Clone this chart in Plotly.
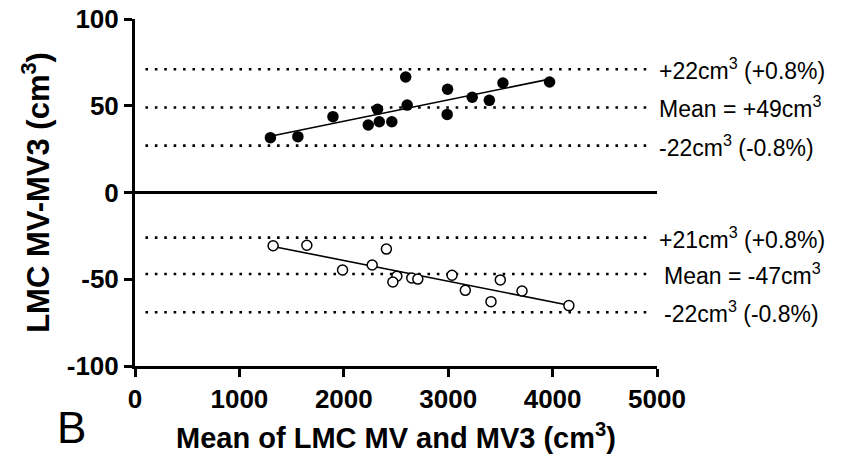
import numpy as np
import plotly.graph_objects as go

# LMC MV vs MV3 agreement (Bland-Altman), two groups
mean_pos = [1297, 1560, 1896, 2234, 2323, 2340, 2460, 2593, 2607, 2994, 2990, 3230, 3394, 3524, 3971]
diff_pos = [31.6, 32.2, 43.7, 38.9, 48.0, 40.8, 40.8, 66.6, 50.4, 59.5, 45.0, 54.9, 53.1, 63.1, 63.7]

mean_neg = [1323, 1646, 2408, 1988, 2272, 2508, 2470, 2651, 2709, 3037, 3164, 3410, 3499, 3707, 4156]
diff_neg = [-30.7, -30.4, -32.6, -44.7, -41.8, -48.3, -51.6, -49.3, -49.9, -47.7, -56.4, -62.9, -50.4, -56.8, -65.2]

# bias and limits of agreement (upper, mean, lower)
limits_pos = [71, 49, 27]
limits_neg = [-26, -47, -69]
labels_pos = ["+22cm<sup>3</sup> (+0.8%)", "Mean = +49cm<sup>3</sup>", "-22cm<sup>3</sup> (-0.8%)"]
labels_neg = ["+21cm<sup>3</sup> (+0.8%)", "Mean = -47cm<sup>3</sup>", "-22cm<sup>3</sup> (-0.8%)"]
label_shift_neg = [0, 5, 5]

x_ticks = [0, 1000, 2000, 3000, 4000, 5000]
y_ticks = [-100, -50, 0, 50, 100]
y_tick_text = ["-100", "-50", "0", "50", "100"]

FONT = "Liberation Sans, Arial, sans-serif"

fig = go.Figure()

# limit lines (dotted)
for lv in limits_pos + limits_neg:
    fig.add_trace(go.Scatter(
        x=[100, 4930], y=[lv, lv], mode="lines",
        line=dict(color="black", width=2.6, dash="2.6px,6.8px"),
        hoverinfo="skip", showlegend=False))

# regression lines
for xs, ys in [(mean_pos, diff_pos), (mean_neg, diff_neg)]:
    k, b = np.polyfit(xs, ys, 1)
    xl = np.array([min(xs), max(xs)])
    fig.add_trace(go.Scatter(
        x=xl, y=k * xl + b, mode="lines",
        line=dict(color="black", width=1.6),
        hoverinfo="skip", showlegend=False))

fig.add_trace(go.Scatter(
    x=mean_pos, y=diff_pos, mode="markers",
    marker=dict(size=11.5, color="black", line=dict(width=0)),
    showlegend=False))
fig.add_trace(go.Scatter(
    x=mean_neg, y=diff_neg, mode="markers",
    marker=dict(size=10, color="white", line=dict(width=1.5, color="black")),
    showlegend=False))

for lv, txt in zip(limits_pos, labels_pos):
    fig.add_annotation(x=5000, y=lv, text=txt, showarrow=False,
                       xanchor="left", yanchor="middle",
                       font=dict(family=FONT, size=23, color="black"))
for lv, txt, sh in zip(limits_neg, labels_neg, label_shift_neg):
    fig.add_annotation(x=5000, y=lv, text=txt, showarrow=False,
                       xanchor="left", yanchor="middle", xshift=sh,
                       font=dict(family=FONT, size=23, color="black"))

# panel letter
fig.add_annotation(x=-0.121, y=-0.178, xref="paper", yref="paper",
                   text="B", showarrow=False, xanchor="center", yanchor="middle",
                   font=dict(family=FONT, size=44, color="black"))

fig.update_layout(
    width=845, height=465,
    margin=dict(l=135, r=188, t=19, b=99),
    plot_bgcolor="white", paper_bgcolor="white",
    xaxis=dict(
        range=[0, 5000], tickvals=x_ticks, showgrid=False, zeroline=False,
        automargin=False,
        showline=True, linewidth=3, linecolor="black",
        ticks="outside", ticklen=8, tickwidth=3, tickcolor="black",
        tickfont=dict(family=FONT, size=26, color="black", weight="bold"),
        title=dict(text="Mean of LMC MV and MV3 (cm<sup>3</sup>)",
                   font=dict(family=FONT, size=29, color="black", weight="bold"),
                   standoff=15),
    ),
    yaxis=dict(
        range=[-100, 100], tickvals=y_ticks, ticktext=y_tick_text, showgrid=False,
        automargin=False,
        zeroline=True, zerolinewidth=3, zerolinecolor="black",
        showline=True, linewidth=3, linecolor="black",
        ticks="outside", ticklen=8, tickwidth=3, tickcolor="black",
        tickfont=dict(family=FONT, size=26, color="black", weight="bold"),
        title=dict(text="LMC MV-MV3 (cm<sup>3</sup>)",
                   font=dict(family=FONT, size=31, color="black", weight="bold"),
                   standoff=8),
    ),
)

fig.write_html("out.html")
